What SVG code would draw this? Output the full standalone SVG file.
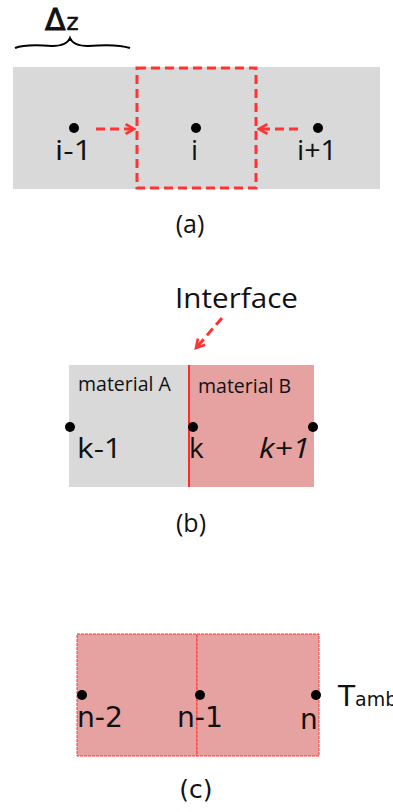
<svg xmlns="http://www.w3.org/2000/svg" width="393" height="812" viewBox="0 0 393 812">
<style>
text{font-family:"Open Sans","Noto Sans","Liberation Sans",sans-serif;fill:#111}
.lbl{font-size:28px}
.cap{font-size:25px;text-anchor:middle}
.dot{fill:#000}
.dash{fill:none;stroke:#ff3333;stroke-width:3;stroke-dasharray:9,5}
.cc{font-family:"DejaVu Sans","Liberation Sans",sans-serif}
</style>
<defs>
<marker id="ah" viewBox="0 0 10 10" refX="8" refY="5" markerWidth="4" markerHeight="4" orient="auto">
<path d="M1,1 L8,5 L1,9" fill="none" stroke="#ff3333" stroke-width="2.2"/>
</marker>
</defs>
<rect width="393" height="812" fill="#fff"/>

<!-- (a) -->
<g id="dz">
<text x="45" y="30" font-size="30" stroke="#111" stroke-width="1" style="font-family:'DejaVu Sans',sans-serif">Δ<tspan font-size="23" stroke-width="0.6" dx="1">z</tspan></text>
<path d="M15,48 C25,44 40,45 52,46 C62,46 68,43 70,38 C72,43 78,46 88,46 C100,45 118,44 130,48" fill="none" stroke="#000" stroke-width="2"/>
</g>
<g id="bar-a">
<rect x="13" y="67" width="367" height="122" fill="#d9d9d9"/>
</g>
<g id="cell-i">
<rect x="137" y="68" width="119" height="120" class="dash"/>
</g>
<g id="node-im1"><circle cx="74" cy="128" r="5" class="dot"/><text x="55" y="160" class="lbl" textLength="37" lengthAdjust="spacingAndGlyphs">i-1</text></g>
<g id="node-i"><circle cx="196" cy="128" r="5" class="dot"/><text x="191" y="160" class="lbl">i</text></g>
<g id="node-ip1"><circle cx="318" cy="128" r="5" class="dot"/><text x="297" y="160" class="lbl" textLength="40" lengthAdjust="spacingAndGlyphs">i+1</text></g>
<text x="190" y="233" class="cap">(a)</text>

<!-- (b) -->
<g id="matA"><rect x="69" y="365" width="120" height="122" fill="#d9d9d9"/><text x="78" y="391" font-size="19.5">material A</text></g>
<g id="matB"><rect x="189" y="365" width="125" height="122" fill="#e6a1a1"/><text x="198" y="393" font-size="19.5">material B</text></g>
<g id="interface"><line x1="189" y1="365" x2="189" y2="487" stroke="#ff2a2a" stroke-width="2"/>
<text x="175" y="308" font-size="27" textLength="123" lengthAdjust="spacingAndGlyphs">Interface</text></g>
<g id="node-km1"><circle cx="70" cy="427" r="5" class="dot"/><text x="77" y="458" class="lbl" textLength="45" lengthAdjust="spacingAndGlyphs">k-1</text></g>
<g id="node-k"><circle cx="193" cy="427" r="5" class="dot"/><text x="189" y="458" class="lbl">k</text></g>
<g id="node-kp1"><circle cx="313" cy="427" r="5" class="dot"/><text x="259" y="458" class="lbl" font-style="italic" textLength="51" lengthAdjust="spacingAndGlyphs">k+1</text></g>
<text x="191" y="532" class="cap">(b)</text>

<!-- (c) -->
<g id="cell-c1"><rect x="77" y="634" width="120" height="122" fill="#e6a1a1" stroke="#ff3333" stroke-width="1" stroke-dasharray="3,1"/></g>
<g id="cell-c2"><rect x="197" y="634" width="122" height="122" fill="#e6a1a1" stroke="#ff3333" stroke-width="1" stroke-dasharray="3,1"/></g>
<g id="node-nm2"><circle cx="82" cy="695" r="5" class="dot"/><text x="77" y="727" class="lbl cc" textLength="46" lengthAdjust="spacingAndGlyphs">n-2</text></g>
<g id="node-nm1"><circle cx="200" cy="695" r="5" class="dot"/><text x="177" y="727" class="lbl cc" textLength="46" lengthAdjust="spacingAndGlyphs">n-1</text></g>
<g id="node-n"><circle cx="316" cy="695" r="5" class="dot"/><text x="300" y="729" class="lbl cc">n</text></g>
<g id="tamb"><text x="338" y="706" class="cc" font-size="28">T<tspan font-size="19">amb</tspan></text></g>
<text x="196" y="798" class="cap cc">(c)</text>

<g id="connectors">
<line x1="96" y1="129" x2="134" y2="129" class="dash" marker-end="url(#ah)"/>
<line x1="298" y1="129" x2="259" y2="129" class="dash" marker-end="url(#ah)"/>
<line x1="222" y1="318" x2="196" y2="348" class="dash" marker-end="url(#ah)"/>
</g>
</svg>
